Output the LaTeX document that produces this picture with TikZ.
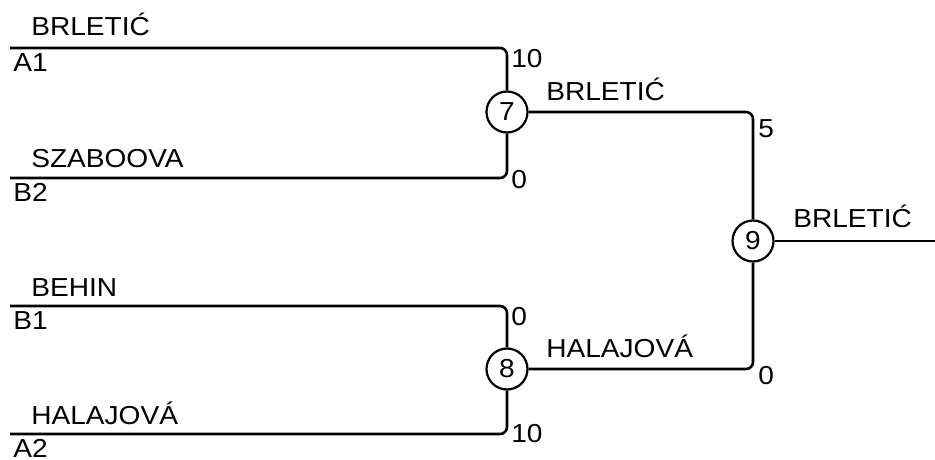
\documentclass[tikz,border=0pt]{standalone}
\usepackage{fontspec}
\setmainfont{Liberation Sans}[FakeStretch=1.08]
\usetikzlibrary{positioning}

\begin{document}
\begin{tikzpicture}[x=1pt,y=-1pt,line width=2.6pt,
	match/.style={circle,draw,line width=2.2pt,minimum size=41pt,inner sep=0pt,font=\fontsize{26}{30}\selectfont},
	player/.style={anchor=base west,inner sep=0pt,font=\fontsize{26}{30}\selectfont},
	seed/.style={anchor=base west,inner sep=0pt,font=\fontsize{26}{30}\selectfont},
	score/.style={anchor=base west,inner sep=0pt,font=\fontsize{26}{30}\selectfont}]
	\useasboundingbox (0,0) rectangle (935,460);
	% entries
	\coordinate (s_a1) at (10,48);
	\coordinate (s_b2) at (10,178);
	\coordinate (s_b1) at (10,306);
	\coordinate (s_a2) at (10,434);
	% matches
	\node[match] (m_7) at (507,112) {7};
	\node[match] (m_8) at (507,369) {8};
	\node[match] (m_9) at (753,241) {9};
	\coordinate (win) at (935,241);
	% names
	\node[player] (p_1) at (30,36) {BRLETIĆ};
	\node[player] (p_2) at (30,167) {SZABOOVA};
	\node[player] (p_3) at (30,296) {BEHIN};
	\node[player] (p_4) at (30,424) {HALAJOVÁ};
	\node[player] (p_7) at (545,100) {BRLETIĆ};
	\node[player] (p_8) at (545,357) {HALAJOVÁ};
	\node[player] (p_9) at (792,227) {BRLETIĆ};
	% seeds
	\node[seed] (a_1) at (12,72) {A1};
	\node[seed] (b_2) at (12,201) {B2};
	\node[seed] (b_1) at (12,329) {B1};
	\node[seed] (a_2) at (12,457) {A2};
	% scores
	\node[score] (r_1) at (510,67) {10};
	\node[score] (r_2) at (510,188) {0};
	\node[score] (r_3) at (510,325) {0};
	\node[score] (r_4) at (510,442) {10};
	\node[score] (r_7) at (757,137) {5};
	\node[score] (r_8) at (757,384) {0};
	% bracket
	\draw[rounded corners=7pt]
	(s_a1) -| (m_7)
	(s_b2) -| (m_7)
	(s_b1) -| (m_8)
	(s_a2) -| (m_8)
	(m_7) -| (m_9)
	(m_8) -| (m_9);
	\draw (m_9) -- (win);
\end{tikzpicture}
\end{document}
